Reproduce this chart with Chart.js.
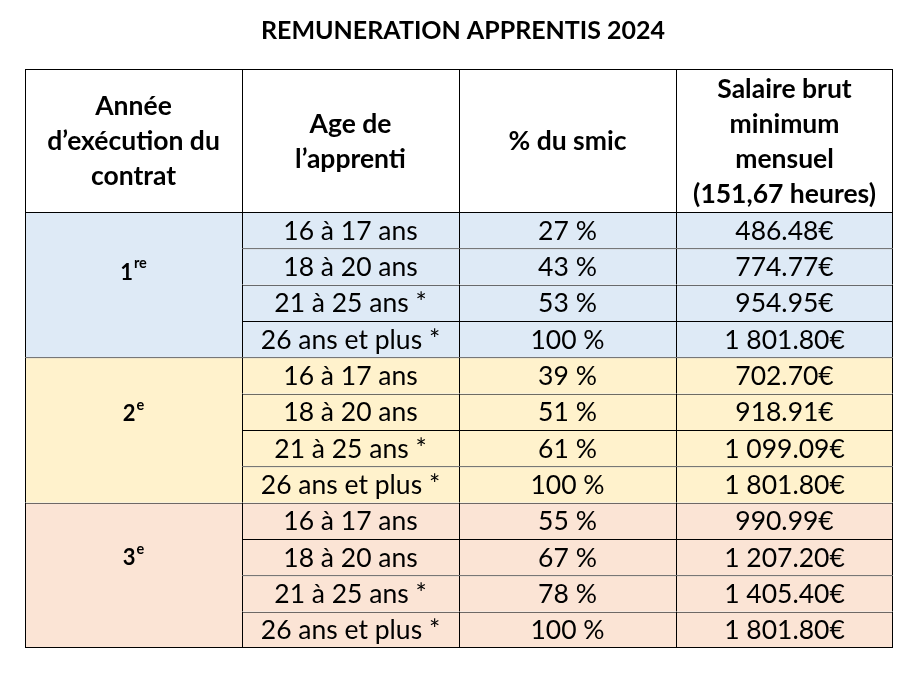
<!DOCTYPE html>
<html lang="fr">
<head>
<meta charset="utf-8">
<title>Rémunération apprentis 2024</title>
<script src="https://cdn.jsdelivr.net/npm/chart.js@4.4.1/dist/chart.umd.min.js"></script>
<style>
  html, body { margin: 0; padding: 0; background: #fff; }
  #wrap { width: 921px; height: 679px; }
</style>
</head>
<body>
<div id="wrap"><canvas id="tableau" width="921" height="679"></canvas></div>
<script>
const titre = 'REMUNERATION APPRENTIS 2024';
const entetes = [
  ['Année', 'd’exécution du', 'contrat'],
  ['Age de', 'l’apprenti'],
  ['% du smic'],
  ['Salaire brut', 'minimum', 'mensuel', '(151,67 heures)']
];
const annees = ['1', '2', '3'];
const anneesExposant = ['re', 'e', 'e'];
const tranchesAge = ['16 à 17 ans', '18 à 20 ans', '21 à 25 ans *', '26 ans et plus *'];
const pourcentSmic = [
  [27, 43, 53, 100],
  [39, 51, 61, 100],
  [55, 67, 78, 100]
];
const salaireBrut = [
  [486.48, 774.77, 954.95, 1801.80],
  [702.70, 918.91, 1099.09, 1801.80],
  [990.99, 1207.20, 1405.40, 1801.80]
];

// mise en page (1 unité de l'axe y = 1 px)
const HAUT_ENTETE = 143;
const HAUT_LIGNE = 436 / 12;
const NB = tranchesAge.length;
const TOTAL = HAUT_ENTETE + HAUT_LIGNE * annees.length * NB;
const couleursAnnee = ['#DEEAF6', '#FFF2CC', '#FBE4D5'];
const POLICE = "Lato, 'Open Sans', sans-serif";
const decalAnnee = [-13, -17, -18];

function formatEuro(v) {
  const [ent, dec] = v.toFixed(2).split('.');
  return ent.replace(/\B(?=(\d{3})+(?!\d))/g, ' ') + '.' + dec + '€';
}

// une barre flottante par cellule
const datasets = [{
  label: 'entete',
  data: entetes.map(() => [0, HAUT_ENTETE]),
  backgroundColor: '#ffffff'
}];
annees.forEach((a, g) => {
  const debutGroupe = HAUT_ENTETE + g * NB * HAUT_LIGNE;
  tranchesAge.forEach((t, r) => {
    const y0 = debutGroupe + r * HAUT_LIGNE;
    datasets.push({
      label: a + ' - ' + t,
      data: [
        r === 0 ? [debutGroupe, debutGroupe + NB * HAUT_LIGNE] : null,
        [y0, y0 + HAUT_LIGNE],
        [y0, y0 + HAUT_LIGNE],
        [y0, y0 + HAUT_LIGNE]
      ],
      backgroundColor: couleursAnnee[g]
    });
  });
});

const textesTableau = {
  id: 'textesTableau',
  afterDatasetsDraw(chart) {
    const { ctx, scales: { x, y } } = chart;
    ctx.save();
    ctx.fillStyle = '#000';
    ctx.textBaseline = 'alphabetic';
    ctx.textAlign = 'center';

    // titre
    ctx.font = `bold 25px ${POLICE}`;
    ctx.fillText(titre, (x.left + x.right) / 2 + 4, 39);

    // en-têtes
    ctx.font = `bold 26.5px ${POLICE}`;
    entetes.forEach((lignes, c) => {
      const cx = x.getPixelForValue(c);
      const cy = y.getPixelForValue(HAUT_ENTETE / 2);
      lignes.forEach((l, i) => {
        const ly = cy + (i - (lignes.length - 1) / 2) * 35;
        ctx.fillText(l, cx, ly + 9.5);
      });
    });

    // lignes de données
    ctx.font = `26.5px ${POLICE}`;
    annees.forEach((a, g) => {
      tranchesAge.forEach((t, r) => {
        const y0 = HAUT_ENTETE + (g * NB + r) * HAUT_LIGNE;
        const ly = y.getPixelForValue(y0 + HAUT_LIGNE / 2) + 9.5;
        ctx.fillText(t, x.getPixelForValue(1), ly);
        ctx.fillText(pourcentSmic[g][r] + ' %', x.getPixelForValue(2), ly);
        ctx.fillText(formatEuro(salaireBrut[g][r]), x.getPixelForValue(3), ly);
      });
    });

    // années (1re, 2e, 3e)
    ctx.textAlign = 'left';
    annees.forEach((a, g) => {
      const milieu = HAUT_ENTETE + (g * NB + NB / 2) * HAUT_LIGNE;
      const base = y.getPixelForValue(milieu) + decalAnnee[g] + 8;
      ctx.font = `bold 22px ${POLICE}`;
      const w1 = ctx.measureText(a).width;
      ctx.font = `bold 14.5px ${POLICE}`;
      const w2 = ctx.measureText(anneesExposant[g]).width;
      const x0 = x.getPixelForValue(0) - (w1 + w2 + 1) / 2;
      ctx.font = `bold 22px ${POLICE}`;
      ctx.fillText(a, x0, base);
      ctx.font = `bold 14.5px ${POLICE}`;
      ctx.fillText(anneesExposant[g], x0 + w1 + 1, base - 11.5);
    });
    ctx.restore();
  }
};

new Chart(document.getElementById('tableau'), {
  type: 'bar',
  data: {
    labels: entetes.map((e, i) => 'col' + i),
    datasets: datasets
  },
  options: {
    responsive: false,
    devicePixelRatio: 1,
    animation: false,
    layout: { padding: { left: 25, right: 28, top: 69, bottom: 31 } },
    datasets: {
      bar: {
        grouped: false,
        barPercentage: 1,
        categoryPercentage: 1,
        inflateAmount: 0,
        borderSkipped: false,
        borderColor: '#000000',
        borderWidth: (ctx) => {
          const v = ctx.raw;
          return {
            top: 1,
            left: 1,
            right: ctx.dataIndex === 3 ? 1 : 0,
            bottom: v && v[1] >= TOTAL - 0.01 ? 1 : 0
          };
        }
      }
    },
    scales: {
      x: { display: false },
      y: { display: false, min: 0, max: TOTAL, reverse: true }
    },
    plugins: {
      legend: { display: false },
      tooltip: { enabled: false },
      title: { display: false }
    }
  },
  plugins: [textesTableau]
});
</script>
</body>
</html>
